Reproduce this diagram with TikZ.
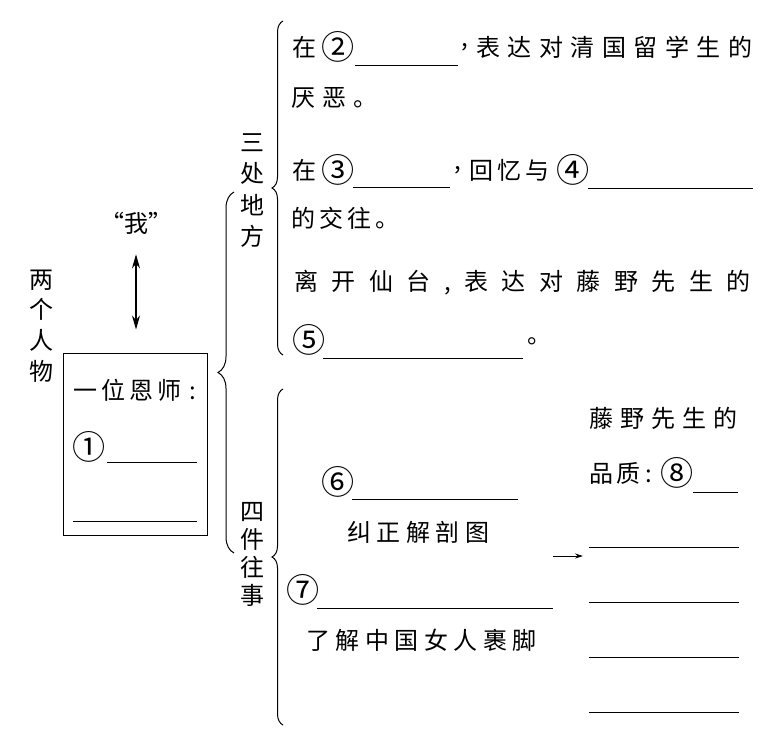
\documentclass[tikz,border=0pt]{standalone}
\usepackage{fontspec}
\usepackage{graphicx}
\newfontfamily\cjk{Noto Sans CJK SC}
\usetikzlibrary{arrows.meta,decorations.pathreplacing}
\makeatletter
\newcommand\spaced[2]{\@tfor\spx:=#2\do{\spx\hspace{#1}}\unskip}
\makeatother
\newcommand\cnum[1]{\raisebox{-3.4pt}{\scalebox{1.38}{#1}}}
\begin{document}
\begin{tikzpicture}[x=1pt,y=-1pt,
  txt/.style={font=\cjk\fontsize{24}{30}\selectfont, inner sep=0pt, anchor=west},
  vtxt/.style={font=\cjk\fontsize{24}{#1}\selectfont, inner sep=0pt, align=center},
  blank/.style={line width=1pt},
  bracel/.style={line width=1pt, decorate, decoration={brace, amplitude=#1}},
  frame/.style={draw, line width=1pt, minimum width=144pt, minimum height=182pt, inner sep=0pt},
  dblarrow/.style={line width=1.2pt, {Stealth[length=14pt,width=8pt]}-{Stealth[length=14pt,width=8pt]}},
  smallarrow/.style={line width=0.9pt, -{Stealth[length=8pt,width=5pt]}}]
\useasboundingbox (0,0) rectangle (773,737);
\fill[white] (0,0) rectangle (773,737);

% left part
\node[vtxt=30.7] (two) at (41,326) {两\\个\\人\\物};
\node[txt, anchor=center] (wo) at (136,223) {“我”};
\node[frame] (box) at (135,444) {};
\node[txt] (teacher) at (73,390) {\spaced{4pt}{一位恩师}\hspace{8pt}:};
\node[txt] (n1) at (72,447) {\cnum{①}};
\coordinate (u1a) at (107,462); \coordinate (u1b) at (197,462);
\draw[blank] (u1a) -- (u1b);
\coordinate (u1c) at (73,521); \coordinate (u1d) at (197,521);
\draw[blank] (u1c) -- (u1d);
\draw[dblarrow] (wo.south) -- (wo.south |- box.north) [shorten <=20pt, shorten >=23pt];

% braces
\draw[bracel=16pt] (234,553) -- (234,192);
\draw[bracel=11pt] (283,355) -- (283,21);
\draw[bracel=11pt] (283,725) -- (283,389);
\node[vtxt=31.5] (three) at (252,190.5) {三\\处\\地\\方};
\node[vtxt=28] (four) at (252,554) {四\\件\\往\\事};

% top block
\node[txt] (l1a) at (292,47) {在\hspace{5pt}\cnum{②}};
\draw[blank] (355,65) -- (458,65);
\node[txt] (l1c) at (461,47) {,};
\node[txt] (l1d) at (476,47) {\spaced{7.5pt}{表达对清国留学生的}};
\node[txt] (l2) at (291,98) {\spaced{7pt}{厌恶。}};
\node[txt] (l3a) at (292,170) {在\hspace{5pt}\cnum{③}};
\draw[blank] (353,187) -- (450,187);
\node[txt] (l3c) at (454,170) {,};
\node[txt] (l3d) at (469,170) {\spaced{4pt}{回忆与}};
\node[txt] (l3e) at (556,170) {\cnum{④}};
\draw[blank] (588,188) -- (753,188);
\node[txt] (l4) at (291,218) {\spaced{4pt}{的交往。}};
\node[txt] (l5) at (294,283) {\spaced{13.5pt}{离开仙台,表达对藤野先生的}};
\node[txt] (l6a) at (292,340) {\cnum{⑤}};
\draw[blank] (323,358) -- (523,358);
\node[txt] (l6b) at (527,341) {。};

% bottom block
\node[txt] (n6) at (321,482) {\cnum{⑥}};
\draw[blank] (352,499) -- (518,499);
\node[txt] (e1) at (347,532) {\spaced{5.5pt}{纠正解剖图}};
\node[txt] (n7) at (286,590) {\cnum{⑦}};
\draw[blank] (317,608) -- (553,608);
\node[txt] (e2) at (306,640) {\spaced{5.5pt}{了解中国女人裹脚}};

% quality
\node[txt] (q1) at (589,418) {\spaced{7pt}{藤野先生的}};
\node[txt] (q2) at (589,473) {品\hspace{3pt}质\hspace{5pt}:};
\node[txt] (n8) at (660,473) {\cnum{⑧}};
\draw[blank] (693,492) -- (738,492);
\foreach \yy in {547,602,657,712} \draw[blank] (589,\yy) -- (739,\yy);
\coordinate (arS) at (553,556);
\coordinate (arE) at (583,556);
\draw[smallarrow] (arS) -- (arE);
\end{tikzpicture}
\end{document}
